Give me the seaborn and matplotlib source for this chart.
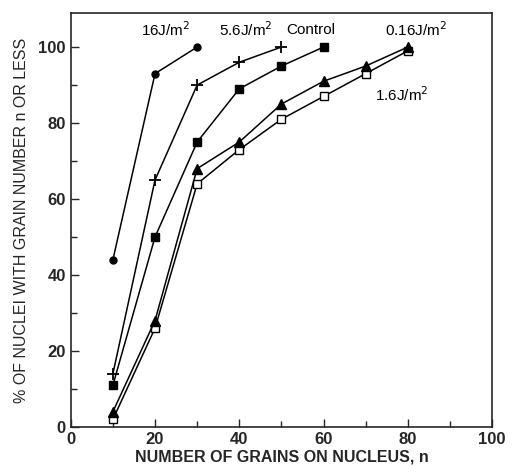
import numpy as np
import pandas as pd
import matplotlib
matplotlib.use("Agg")
import matplotlib.pyplot as plt
import seaborn as sns

# data
grains_16 = [10, 20, 30]
pct_16 = [44, 93, 100]
grains_56 = [10, 20, 30, 40, 50]
pct_56 = [14, 65, 90, 96, 100]
grains_ctrl = [10, 20, 30, 40, 50, 60]
pct_ctrl = [11, 50, 75, 89, 95, 100]
grains_016 = [10, 20, 30, 40, 50, 60, 70, 80]
pct_016 = [4, 28, 68, 75, 85, 91, 95, 100]
grains_16b = [10, 20, 30, 40, 50, 60, 70, 80]
pct_16b = [2, 26, 64, 73, 81, 87, 93, 99]

series = ["16J/m²", "5.6J/m²", "Control", "0.16J/m²", "1.6J/m²"]
frames = []
for name, xs, ys in zip(series,
                        [grains_16, grains_56, grains_ctrl, grains_016, grains_16b],
                        [pct_16, pct_56, pct_ctrl, pct_016, pct_16b]):
    frames.append(pd.DataFrame({"n": xs, "pct": ys, "dose": name}))
df = pd.concat(frames, ignore_index=True)

sns.set_style("ticks")
plt.rcParams['font.family'] = ['Liberation Sans', 'DejaVu Sans']

fig = plt.figure(figsize=(5.28, 4.76), dpi=100)
ax = fig.add_axes([0.134, 0.103, 0.798, 0.870])

markers = {"16J/m²": "o", "5.6J/m²": "+", "Control": "s",
           "0.16J/m²": "^", "1.6J/m²": "s"}
msizes = {"16J/m²": 5, "5.6J/m²": 8, "Control": 6, "0.16J/m²": 7, "1.6J/m²": 6}

for name in series:
    sub = df[df["dose"] == name]
    open_mk = name == "1.6J/m²"
    sns.lineplot(data=sub, x="n", y="pct", ax=ax, color="black", linewidth=1.1,
                 marker=markers[name], markersize=msizes[name],
                 markerfacecolor="white" if open_mk else "black",
                 markeredgecolor="black",
                 markeredgewidth=1.3 if name == "5.6J/m²" else 1.0,
                 legend=False, zorder=3 if open_mk else 4)

# curve labels
txt_kw = dict(fontsize=11, ha="center", va="center", color="black")
ax.text(22.5, 104.5, "16J/m$^2$", **txt_kw)
ax.text(41.5, 104.5, "5.6J/m$^2$", **txt_kw)
ax.text(57, 104.5, "Control", **txt_kw)
ax.text(82, 104.5, "0.16J/m$^2$", **txt_kw)
ax.text(78.5, 87.5, "1.6J/m$^2$", **txt_kw)

ax.set_xlim(0, 100)
ax.set_ylim(0, 109)
ax.set_xticks(np.arange(0, 101, 20))
ax.set_yticks(np.arange(0, 101, 20))
ax.set_xticks(np.arange(10, 100, 20), minor=True)
ax.set_yticks(np.arange(10, 100, 20), minor=True)
ax.tick_params(which="both", direction="in", width=1.0)
ax.tick_params(which="major", length=6, labelsize=12)
ax.tick_params(which="minor", length=4)
for lab in ax.get_xticklabels() + ax.get_yticklabels():
    lab.set_fontweight("bold")
for sp in ax.spines.values():
    sp.set_linewidth(1.2)
    sp.set_visible(True)

ax.set_xlabel("NUMBER OF GRAINS ON NUCLEUS, n", fontsize=11.5, fontweight="bold", labelpad=2)
ax.set_ylabel("% OF NUCLEI WITH GRAIN NUMBER n OR LESS", fontsize=11.5, labelpad=7)

fig.savefig("out.png", dpi=100)
